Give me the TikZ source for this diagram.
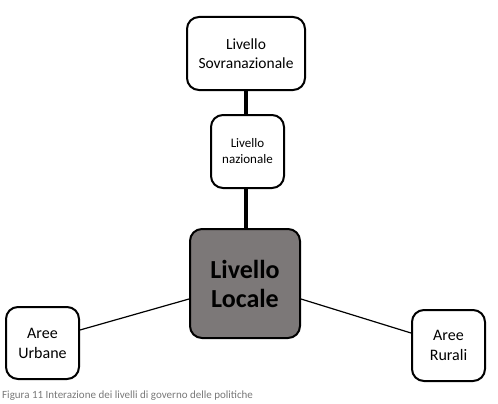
\documentclass[tikz,border=0pt]{standalone}
\usepackage{fontspec}
\setmainfont{Carlito}
\definecolor{locgray}{RGB}{124,120,120}
\definecolor{capgray}{RGB}{120,120,120}
\begin{document}
\begin{tikzpicture}[x=1pt,y=-1pt,
  box/.style={draw=black,line width=2pt,rounded corners=12pt,fill=white,align=center,inner sep=0pt},
  thick conn/.style={line width=4.5pt},
  thin conn/.style={line width=1.2pt}]
\useasboundingbox (0,0) rectangle (498,404);
\node[box,minimum width=118pt,minimum height=73pt,font=\fontsize{15.5}{19}\selectfont] (sov) at (246,53.5) {Livello\\Sovranazionale};
\node[box,minimum width=73pt,minimum height=73pt,font=\fontsize{13}{16}\selectfont] (naz) at (247.5,151.5) {Livello\\nazionale};
\node[box,fill=locgray,minimum width=110pt,minimum height=109pt,font=\fontsize{26}{29}\selectfont\bfseries] (loc) at (245,283.5) {Livello\\Locale};
\node[box,minimum width=73pt,minimum height=72pt,font=\fontsize{16}{20}\selectfont] (urb) at (42.5,343) {Aree\\Urbane};
\node[box,minimum width=73pt,minimum height=71pt,font=\fontsize{16}{20}\selectfont] (rur) at (448.5,345.5) {Aree\\Rurali};
\draw[thick conn] (sov.south) -- (naz.north -| sov.south);
\draw[thick conn] (naz.south -| sov.south) -- (loc.north -| sov.south);
\draw[thin conn] (urb.east |- 0,330) -- (loc.west |- 0,299);
\draw[thin conn] (rur.west |- 0,333) -- (loc.east |- 0,299);
\node[anchor=north west,inner sep=0pt,text=capgray,font=\fontsize{11}{13}\selectfont] (cap) at (2,391) {Figura 11 Interazione dei livelli di governo delle politiche};
\end{tikzpicture}
\end{document}
